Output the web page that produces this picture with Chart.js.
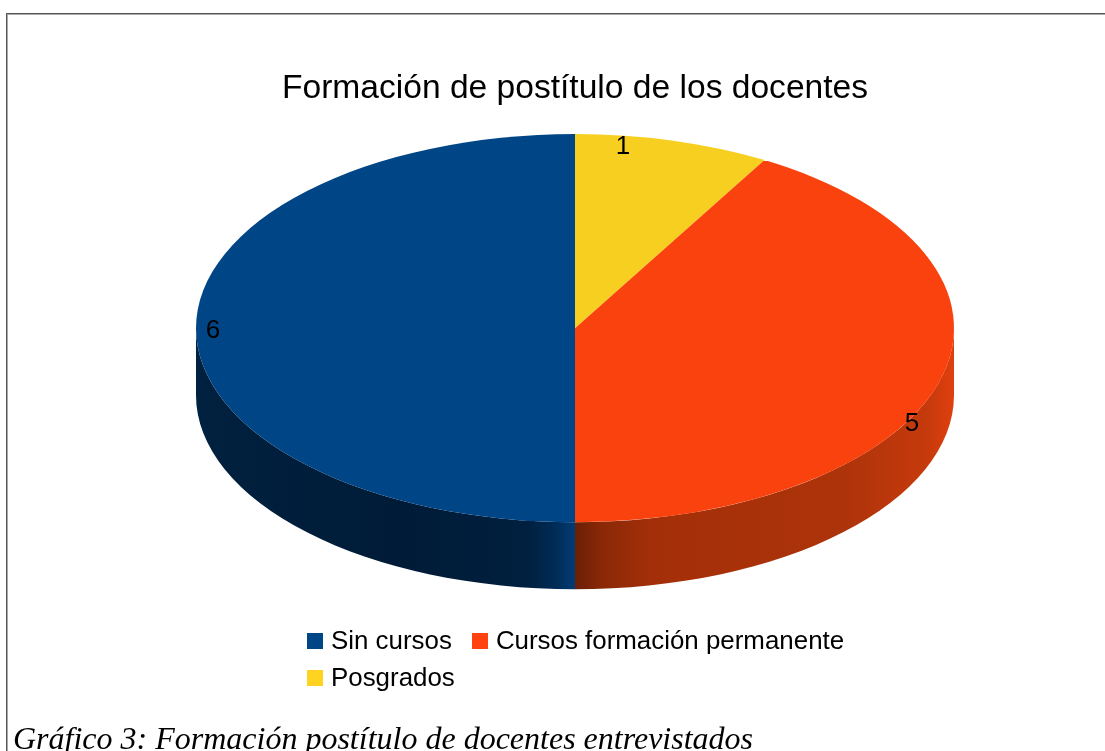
<!DOCTYPE html>
<html lang="es">
<head>
<meta charset="utf-8">
<title>Formación de postítulo de los docentes</title>
<script src="https://cdn.jsdelivr.net/npm/chart.js@4"></script>
<style>
  html, body { margin: 0; width: 1105px; height: 751px; overflow: hidden; background: #fff; }
  #frame { position: absolute; left: 6px; top: 13px; width: 1200px; height: 900px;
           border: 1px solid #555; box-shadow: inset 1px 1px 0 #aaa; }
  #chart { position: absolute; left: 0; top: 0; }
  #legend { position: absolute; left: 307px; top: 622px; width: 560px; display: flex; flex-wrap: wrap;
            font: 25.9px "Liberation Sans", sans-serif; color: #000; }
  #legend div { display: flex; align-items: center; height: 37px; margin-right: 20px; white-space: nowrap; }
  #legend i { display: block; width: 16px; height: 16px; margin-right: 8px; }
  #caption { position: absolute; left: 13px; top: 720px; white-space: nowrap;
             font: italic 32px "Liberation Serif", serif; color: #000; }
</style>
</head>
<body>
<div id="frame"></div>
<canvas id="chart" width="1105" height="751"></canvas>
<div id="legend"></div>
<div id="caption">Gráfico 3: Formación postítulo de docentes entrevistados</div>
<script>
const chartTitle = 'Formación de postítulo de los docentes';
const categories = ['Sin cursos', 'Cursos formación permanente', 'Posgrados'];
const values = [6, 5, 1];
const legendColors = ['#004586', '#ff420e', '#ffd320'];
const sliceColors = ['#004586', '#fa420e', '#f7cf20'];

// look of the fake 3d disc
const squash = 0.512;
const depth = 67;
// gradient stops run from the middle of the disc outwards
const wallStops = {
  'Sin cursos': [[0, '#003c76'], [0.05, '#002c58'], [0.12, '#00203f'], [0.45, '#001b37'], [1, '#00213f']],
  'Cursos formación permanente': [[0, '#6a1f06'], [0.07, '#8a2807'], [0.2, '#a32f08'], [0.7, '#ad330a'], [0.93, '#c63a0c'], [1, '#e0400e']]
};
// label nudges from the rim point of each slice, in px
const labelNudge = {
  'Sin cursos': [17, 3],
  'Cursos formación permanente': [-29, 45],
  'Posgrados': [-50, 6]
};

// legend is html because the reference wraps it left aligned
const legendEl = document.getElementById('legend');
categories.forEach((name, i) => {
  const row = document.createElement('div');
  const box = document.createElement('i');
  box.style.background = legendColors[i];
  row.append(box, name);
  legendEl.append(row);
});

const disc3d = {
  id: 'disc3d',
  beforeDatasetsDraw(chart) {
    const ctx = chart.ctx;
    const labels = chart.data.labels;
    chart.getDatasetMeta(0).data.forEach((arc, i) => {
      const stops = wallStops[labels[i]];
      if (!stops) return;
      const a0 = Math.max(arc.startAngle, 0);
      const a1 = Math.min(arc.endAngle, Math.PI);
      if (a1 <= a0) return;
      const r = arc.outerRadius;
      const ry = r * squash;
      const xa = arc.x + r * Math.cos(a0);
      const xb = arc.x + r * Math.cos(a1);
      const mid = Math.abs(xa - arc.x) < 1 ? xa : xb;
      const far = mid === xa ? xb : xa;
      const g = ctx.createLinearGradient(mid, 0, far, 0);
      stops.forEach(s => g.addColorStop(s[0], s[1]));
      ctx.save();
      ctx.beginPath();
      ctx.ellipse(arc.x, arc.y, r, ry, 0, a0, a1);
      ctx.ellipse(arc.x, arc.y + depth, r, ry, 0, a1, a0, true);
      ctx.closePath();
      ctx.fillStyle = g;
      ctx.fill();
      ctx.restore();
    });
    const first = chart.getDatasetMeta(0).data[0];
    ctx.save();
    ctx.translate(first.x, first.y);
    ctx.scale(1, squash);
    ctx.translate(-first.x, -first.y);
  },
  afterDatasetsDraw(chart) {
    const ctx = chart.ctx;
    ctx.restore();
    ctx.save();
    ctx.fillStyle = '#000';
    ctx.font = '26px "Liberation Sans", sans-serif';
    ctx.textAlign = 'center';
    ctx.textBaseline = 'middle';
    chart.getDatasetMeta(0).data.forEach((arc, i) => {
      const name = chart.data.labels[i];
      const a = (arc.startAngle + arc.endAngle) / 2;
      const x = arc.x + arc.outerRadius * Math.cos(a) + labelNudge[name][0];
      const y = arc.y + arc.outerRadius * squash * Math.sin(a) + labelNudge[name][1];
      ctx.fillText(String(chart.data.datasets[0].data[i]), x, y);
    });
    ctx.restore();
  }
};

// the reference runs its slices counter clockwise, chart.js goes clockwise
new Chart(document.getElementById('chart'), {
  type: 'pie',
  data: {
    labels: categories.slice().reverse(),
    datasets: [{
      data: values.slice().reverse(),
      backgroundColor: sliceColors.slice().reverse(),
      borderWidth: 0
    }]
  },
  options: {
    responsive: false,
    animation: false,
    radius: 379,
    layout: { padding: { left: 45, bottom: 204 } },
    plugins: {
      legend: { display: false },
      tooltip: { enabled: false },
      title: {
        display: true,
        text: chartTitle,
        color: '#000',
        font: { family: '"Liberation Sans", sans-serif', size: 33.6, weight: 'normal' },
        padding: { top: 69, bottom: 0 }
      }
    }
  },
  plugins: [disc3d]
});
</script>
</body>
</html>
